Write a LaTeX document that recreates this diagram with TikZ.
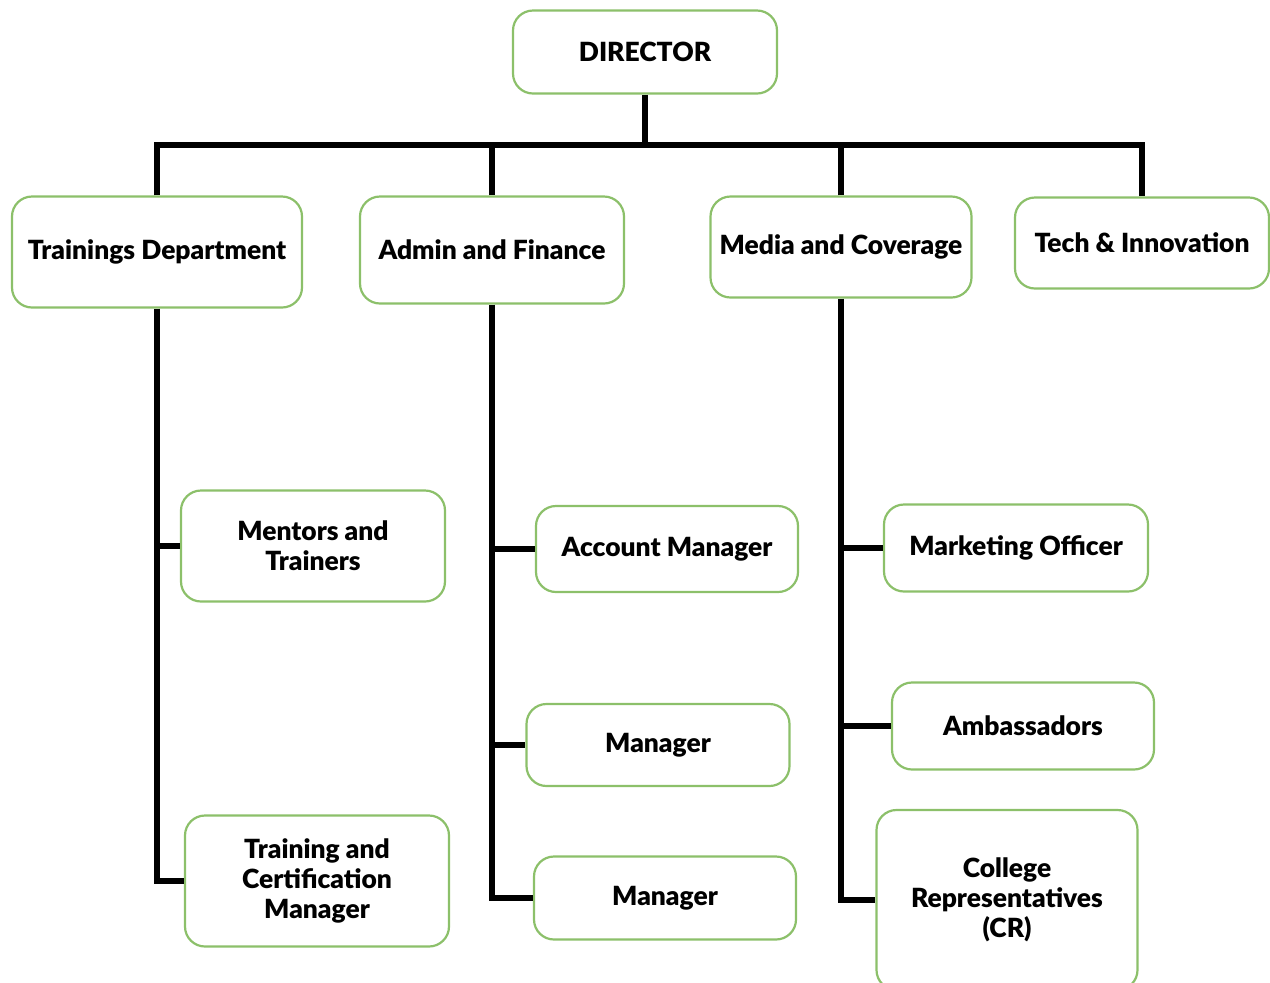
\documentclass[tikz,border=0pt]{standalone}
\usepackage{fontspec}
\setmainfont{Lato}[BoldFont={Lato Black}]
\usepackage{tikz}
\usetikzlibrary{positioning}

\definecolor{boxgreen}{HTML}{8CC06A}

\begin{document}
\begin{tikzpicture}[x=0.5pt,y=-0.5pt,
        box/.style={draw=boxgreen,line width=1.1pt,rounded corners=10pt,fill=white,
                    align=center,font=\fontsize{13.2}{15}\selectfont\bfseries,inner sep=2pt},
        link/.style={line width=2.6pt,black}]
        \useasboundingbox (0,0) rectangle (1270,982);
        % top level
        \node[box,minimum width=132pt,minimum height=41.5pt] (dir) at (645,52) {DIRECTOR};
        \node[box,minimum width=145pt,minimum height=55.5pt] (train) at (157,252) {Trainings Department};
        \node[box,minimum width=132pt,minimum height=53.5pt] (admin) at (492,250) {Admin and Finance};
        \node[box,minimum width=130.5pt,minimum height=50.5pt] (media) at (841,247) {Media and Coverage};
        \node[box,minimum width=127pt,minimum height=45.5pt] (tech) at (1142,243) {Tech \& Innovation};
        % trainings branch
        \node[box,minimum width=132pt,minimum height=55.5pt] (mentor) at (313,546) {Mentors and\\Trainers};
        \node[box,minimum width=132pt,minimum height=65.5pt] (cert) at (317,881) {Training and\\Certification\\Manager};
        % admin branch
        \node[box,minimum width=131pt,minimum height=43pt] (acct) at (667,549) {Account Manager};
        \node[box,minimum width=131.5pt,minimum height=41pt] (mgra) at (658,745) {Manager};
        \node[box,minimum width=131pt,minimum height=41.5pt] (mgrb) at (665,898) {Manager};
        % media branch
        \node[box,minimum width=132pt,minimum height=43.5pt] (mkt) at (1016,548) {Marketing Officer};
        \node[box,minimum width=131pt,minimum height=43.5pt] (amb) at (1023,726) {Ambassadors};
        \node[box,minimum width=130.5pt,minimum height=90pt] (cr) at (1007,900) {College\\Representatives\\(CR)};

        \coordinate (bus) at (645,145);
        \draw[link] (dir.south) -- (bus);
        \draw[link] (train.north) -- (train.north |- bus) -- (tech.north |- bus) -- (tech.north);
        \draw[link] (admin.north) -- (admin.north |- bus);
        \draw[link] (media.north) -- (media.north |- bus);

        \draw[link] (train.south) -- (train.south |- cert.west) -- (cert.west);
        \draw[link] (train.south |- mentor.west) -- (mentor.west);

        \draw[link] (admin.south) -- (admin.south |- mgrb.west) -- (mgrb.west);
        \draw[link] (admin.south |- acct.west) -- (acct.west);
        \draw[link] (admin.south |- mgra.west) -- (mgra.west);

        \draw[link] (media.south) -- (media.south |- cr.west) -- (cr.west);
        \draw[link] (media.south |- mkt.west) -- (mkt.west);
        \draw[link] (media.south |- amb.west) -- (amb.west);
    \end{tikzpicture}
\end{document}
